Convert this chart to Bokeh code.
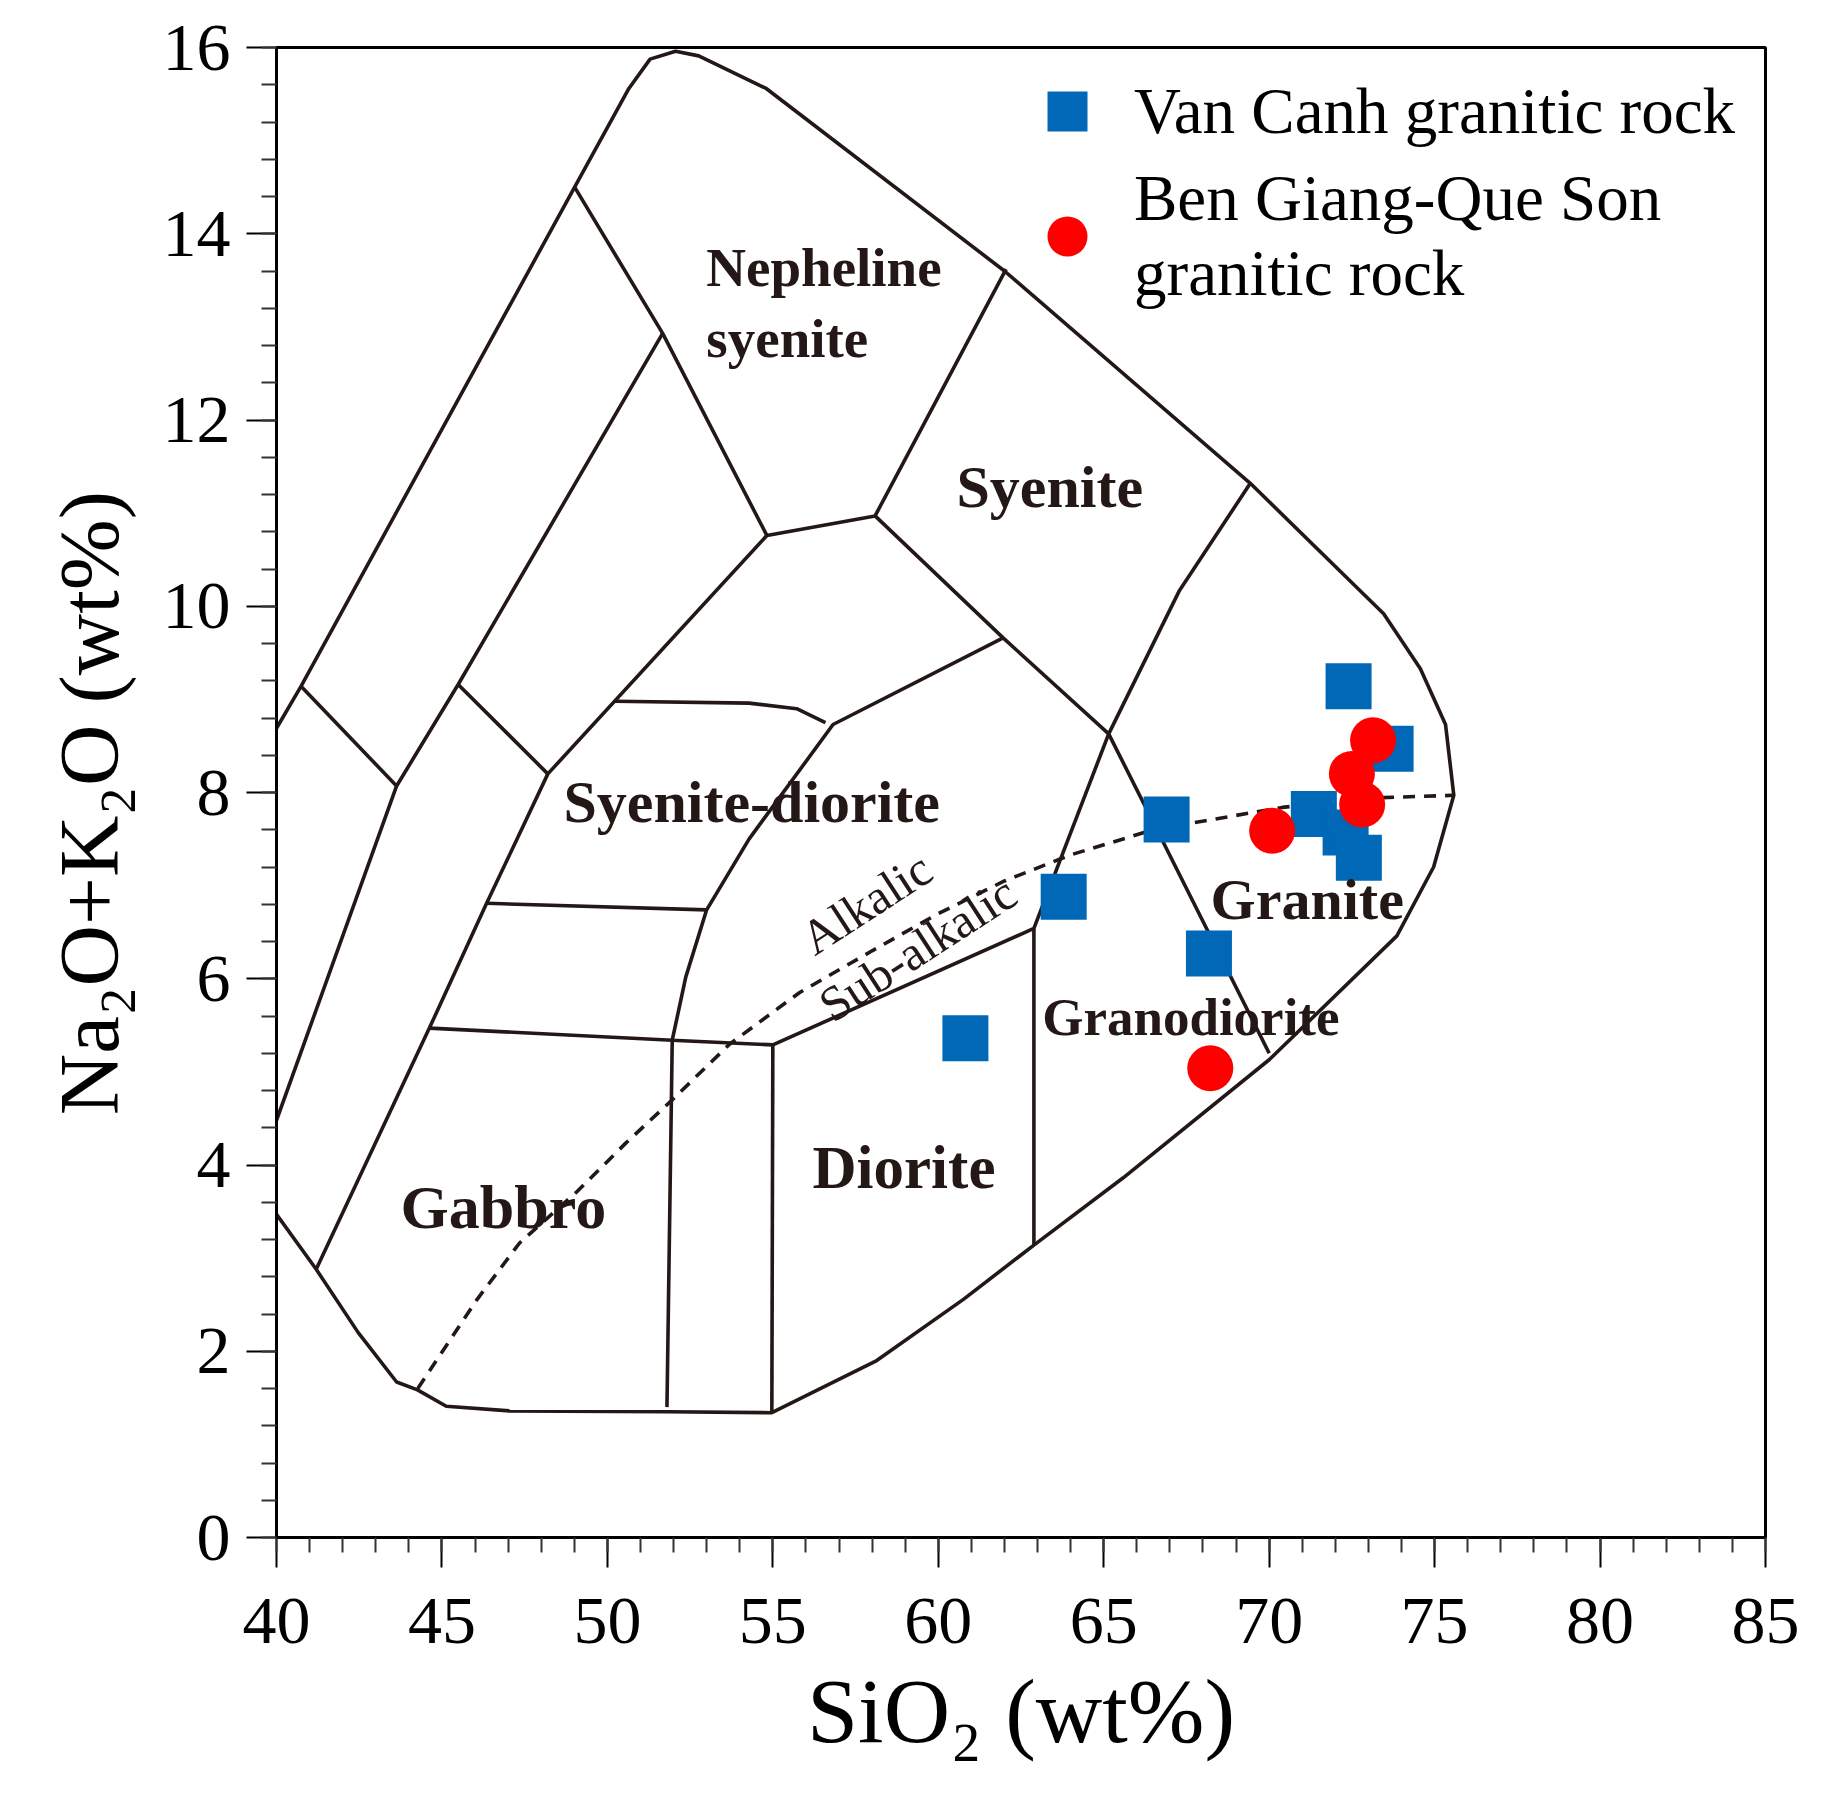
from bokeh.plotting import figure
from bokeh.models import Legend, LegendItem, Label, FixedTicker, Range1d
from bokeh.embed import file_html
from bokeh.resources import INLINE

FONT = "Liberation Serif"
INK = "#231815"

# ---------------- sample data (SiO2 wt%, Na2O+K2O wt%) ----------------
van_canh_sio2 = [72.4, 73.67, 66.9, 71.35, 72.31, 72.71, 63.79, 68.18, 60.82]
van_canh_alk = [9.14, 8.47, 7.71, 7.77, 7.57, 7.30, 6.88, 6.27, 5.36]
ben_giang_sio2 = [73.14, 72.5, 72.81, 70.09, 68.22]
ben_giang_alk = [8.56, 8.20, 7.87, 7.59, 5.04]

# ---------------- classification field boundaries ----------------
outer_x = [40.0, 40.74, 49.01, 50.65, 51.29, 52.06, 52.76, 54.8, 62.0, 69.43, 73.46, 74.57,
           75.33, 75.58, 74.97, 73.86, 70.0, 65.58, 62.89, 60.77, 58.14, 54.97, 51.8, 47.04,
           45.13, 44.26, 43.63, 42.47, 41.2, 40.0]
outer_y = [8.69, 9.14, 14.5, 15.56, 15.875, 15.96, 15.91, 15.56, 13.6, 11.32, 9.92, 9.33,
           8.73, 7.97, 7.2, 6.46, 5.13, 3.86, 3.14, 2.56, 1.9, 1.34, 1.35, 1.36,
           1.41, 1.585, 1.67, 2.2, 2.88, 3.47]

l1_x = [40.74, 43.63]
l1_y = [9.14, 8.07]
l2_x = [51.67, 45.49, 43.63, 40.0]
l2_y = [12.93, 9.16, 8.07, 4.48]
l3_x = [49.01, 51.67, 54.82, 58.09, 62.05]
l3_y = [14.5, 12.93, 10.76, 10.97, 13.62]
l4_x = [45.49, 48.2]
l4_y = [9.16, 8.2]
l5_x = [54.82, 48.2, 46.35, 44.62, 41.2]
l5_y = [10.76, 8.2, 6.81, 5.47, 2.88]
l6_x = [50.23, 54.28, 55.72, 56.59]
l6_y = [8.98, 8.96, 8.90, 8.75]
l7_x = [58.09, 61.96, 65.15, 66.75, 70.0]
l7_y = [10.97, 9.66, 8.63, 7.5, 5.2]
l8_x = [61.96, 56.82, 54.28, 53.0, 52.37, 51.96, 51.8]
l8_y = [9.66, 8.73, 7.5, 6.74, 6.02, 5.34, 1.40]
l9_x = [46.35, 53.0]
l9_y = [6.81, 6.74]
l10_x = [44.62, 51.96, 55.0, 62.89, 65.15, 67.29, 69.43]
l10_y = [5.47, 5.34, 5.29, 6.54, 8.63, 10.17, 11.32]
l11_x = [55.0, 54.97]
l11_y = [5.29, 1.34]
l12_x = [62.89, 62.89]
l12_y = [6.54, 3.14]

# Irvine & Baragar alkalic / sub-alkalic divide
divide_x = [44.27, 46.07, 47.34, 49.07, 50.57, 51.96, 53.7, 55.8, 58.0, 60.0, 62.0, 64.0,
            66.5, 70.4, 73.0, 75.58]
divide_y = [1.60, 2.56, 3.16, 3.71, 4.24, 4.70, 5.30, 5.85, 6.30, 6.70, 7.05, 7.33,
            7.60, 7.84, 7.94, 7.97]

# field names: (text, x, y of text bottom, font px)
field_labels = [
    ("Nepheline", 52.99, 13.31, 55),
    ("syenite", 52.99, 12.55, 55),
    ("Syenite", 60.55, 10.93, 60),
    ("Syenite-diorite", 48.67, 7.54, 60),
    ("Granite", 68.23, 6.50, 58),
    ("Granodiorite", 63.14, 5.28, 53),
    ("Diorite", 56.2, 3.615, 61),
    ("Gabbro", 43.75, 3.185, 62),
]
series_labels = ["Van Canh granitic rock", "Ben Giang-Que Son\ngranitic rock"]
x_ticks = list(range(40, 86, 5))
y_ticks = list(range(0, 17, 2))

p = figure(frame_width=1489, frame_height=1490,
           x_range=Range1d(40, 85), y_range=Range1d(0, 16),
           output_backend="svg", toolbar_location=None,
           min_border_left=276, min_border_top=47, min_border_right=35, min_border_bottom=215)
p.grid.visible = False
p.outline_line_color = "black"
p.outline_line_width = 3
p.background_fill_color = "white"
p.border_fill_color = "white"

p.xaxis.ticker = FixedTicker(ticks=x_ticks, minor_ticks=list(range(40, 86)))
p.yaxis.ticker = FixedTicker(ticks=y_ticks, minor_ticks=[round(i * 0.4, 2) for i in range(41)])
p.xaxis.axis_label = "SiO\u2082 (wt%)"
p.yaxis.axis_label = "Na\u2082O+K\u2082O (wt%)\u00a0"
for ax in (p.xaxis, p.yaxis):
    ax.axis_label_text_font = FONT
    ax.axis_label_text_font_style = "normal"
    ax.axis_label_text_font_size = "92px"
    ax.axis_label_text_color = "black"
    ax.major_label_text_font = FONT
    ax.major_label_text_font_size = "68px"
    ax.major_label_text_color = "black"
    ax.axis_line_width = 3
    ax.axis_line_color = "black"
    ax.major_tick_out = 30
    ax.major_tick_in = 0
    ax.minor_tick_out = 15
    ax.minor_tick_in = 0
    ax.major_tick_line_width = 2
    ax.minor_tick_line_width = 2
    ax.major_tick_line_color = "black"
    ax.minor_tick_line_color = "#333333"
p.yaxis.axis_label_text_font_size = "85px"
p.xaxis.major_label_standoff = 31
p.yaxis.major_label_standoff = 16
p.xaxis.axis_label_standoff = 14
p.yaxis.axis_label_standoff = 24

# field boundaries
BW = 3.6
p.line(outer_x, outer_y, line_color=INK, line_width=BW)
for xs, ys in [(l1_x, l1_y), (l2_x, l2_y), (l3_x, l3_y), (l4_x, l4_y), (l5_x, l5_y),
               (l6_x, l6_y), (l7_x, l7_y), (l8_x, l8_y), (l9_x, l9_y), (l10_x, l10_y),
               (l11_x, l11_y), (l12_x, l12_y)]:
    p.line(xs, ys, line_color=INK, line_width=BW)
p.line(divide_x, divide_y, line_color=INK, line_width=BW, line_dash="12 9")

for text, x, y, fs in field_labels:
    p.add_layout(Label(x=x, y=y, text=text, text_font=FONT, text_font_style="bold",
                       text_font_size=f"{fs}px", text_color=INK))
p.add_layout(Label(x=56.45, y=6.14, text="Alkalic", text_font=FONT, text_font_size="49px",
                   text_color=INK, angle=0.576, angle_units="rad"))
p.add_layout(Label(x=57.0, y=5.42, text="Sub-alkalic", text_font=FONT, text_font_size="49px",
                   text_color=INK, angle=0.576, angle_units="rad"))

sq = p.scatter(van_canh_sio2, van_canh_alk, marker="square", size=46,
               fill_color="#0068B7", line_color="#0068B7", line_width=0)
ci = p.scatter(ben_giang_sio2, ben_giang_alk, marker="circle", size=46,
               fill_color="#FF0000", line_color="#FF0000", line_width=0)

legend = Legend(items=[LegendItem(label=series_labels[0], renderers=[sq]),
                       LegendItem(label=series_labels[1], renderers=[ci])],
                location=(741, 1226), orientation="vertical",
                glyph_width=100, glyph_height=100, label_standoff=17,
                label_text_font=FONT, label_text_font_size="65px", label_text_color="black",
                label_text_line_height=1.46, spacing=0, padding=0, margin=0,
                border_line_alpha=0, background_fill_alpha=0)
p.add_layout(legend)

open("out.html", "w").write(file_html(p, INLINE))
